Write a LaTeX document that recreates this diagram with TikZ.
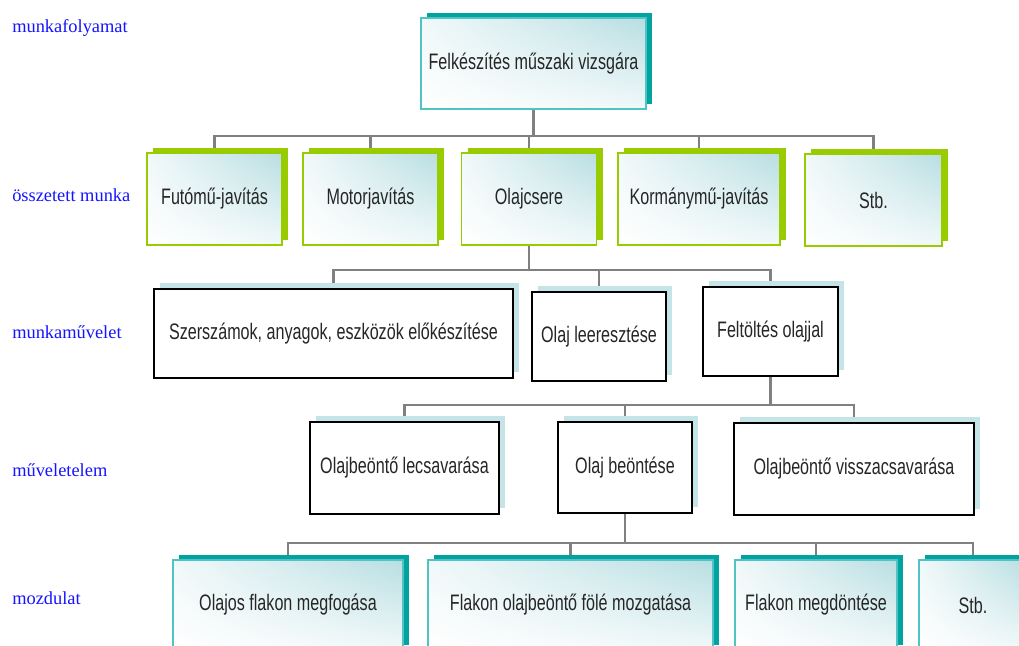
\documentclass[tikz,border=0pt]{standalone}
\usepackage{fontspec}
\setmainfont{Liberation Serif}
\newfontfamily\boxfont{Liberation Sans}[FakeStretch=0.72]
\usepackage{tikz}
\usetikzlibrary{shadows}
\usetikzlibrary{shadings}
\usetikzlibrary{backgrounds}
\definecolor{tealdark}{RGB}{0,163,160}
\definecolor{teallight}{RGB}{80,196,196}
\definecolor{limegreen}{RGB}{153,204,0}
\definecolor{palecyan}{RGB}{196,228,232}
\definecolor{fadecyan}{RGB}{184,222,226}
\definecolor{busgray}{RGB}{128,128,128}
\definecolor{labelblue}{RGB}{20,20,255}
\tikzset{sz/.style 2 args = {minimum width=#1*0.75pt, minimum height=#2*0.75pt},
         card/.style = {inner sep=0pt, line width=1.1pt, text=black!85,
                        font=\boxfont\fontsize{16.8}{20}\selectfont},
         faded/.style = {upper right=fadecyan, upper left=fadecyan!20,
                         lower right=fadecyan!20, lower left=white},
         tealcard/.style = {card, faded, draw=teallight,
                            general shadow={fill=tealdark, shadow xshift=4.5pt, shadow yshift=3.75pt}},
         greencard/.style = {card, faded, draw=limegreen,
                             general shadow={fill=limegreen, shadow xshift=4.5pt, shadow yshift=3.75pt}},
         plaincard/.style = {card, fill=white, draw=black,
                             general shadow={fill=palecyan, shadow xshift=4.5pt, shadow yshift=4.5pt}},
         conn/.style = {draw=busgray, line width=2.2pt},
         level/.style = {anchor=west, inner sep=0pt, text=labelblue,
                         font=\fontsize{13.8}{16}\selectfont}}

\begin{document}
\begin{tikzpicture}[x=0.75pt, y=-0.75pt]
      \path [use as bounding box, clip] (0, 0) rectangle (1019, 645);
      % levels
      \node [level] (lv1) at (12, 28) {munkafolyamat};
      \node [level] (lv2) at (12, 195) {összetett munka};
      \node [level] (lv3) at (12, 332) {munkaművelet};
      \node [level] (lv4) at (12, 470) {műveletelem};
      \node [level] (lv5) at (12, 598) {mozdulat};
      % munkafolyamat
      \node [tealcard, sz={225}{91}] (top) at (533.5, 63.5) {Felkészítés műszaki vizsgára};
      % összetett munka
      \node [greencard, sz={135}{92}] (futomu) at (214.5, 199) {Futómű-javítás};
      \node [greencard, sz={135}{92}] (motor) at (370.5, 199) {Motorjavítás};
      \node [greencard, sz={135}{92}] (olajcsere) at (529, 199) {Olajcsere};
      \node [greencard, sz={162}{92}] (kormany) at (699, 199) {Kormánymű-javítás};
      \node [greencard, sz={137}{92}] (stbegy) at (873.5, 200) {Stb.};
      % munkaművelet
      \node [plaincard, sz={359}{89}] (szersz) at (333.5, 333.5) {Szerszámok, anyagok, eszközök előkészítése};
      \node [plaincard, sz={134}{89}] (leeresz) at (599, 336.5) {Olaj leeresztése};
      \node [plaincard, sz={135}{89}] (feltolt) at (770.5, 331.5) {Feltöltés olajjal};
      % műveletelem
      \node [plaincard, sz={189}{92}] (lecsav) at (404.5, 468) {Olajbeöntő lecsavarása};
      \node [plaincard, sz={134}{91}] (beont) at (625, 467.5) {Olaj beöntése};
      \node [plaincard, sz={240}{92}] (visszacs) at (854, 469) {Olajbeöntő visszacsavarása};
      % mozdulat
      \node [tealcard, sz={230}{90}] (megfog) at (288, 605) {Olajos flakon megfogása};
      \node [tealcard, sz={285}{90}] (mozgat) at (570.5, 605) {Flakon olajbeöntő fölé mozgatása};
      \node [tealcard, sz={162}{90}] (megdont) at (816, 605) {Flakon megdöntése};
      \node [tealcard, sz={108}{90}] (stbket) at (973, 605) {Stb.};
      % connectors
      \coordinate (bus1) at (0, 136);
      \coordinate (bus2) at (0, 270);
      \coordinate (bus3) at (0, 405);
      \coordinate (bus4) at (0, 543);
      \begin{scope}[on background layer]
        \foreach \n in {futomu, motor, olajcsere, kormany, stbegy}
          \draw [conn] (top.south) |- (\n.north |- bus1) -- (\n.north);
        \foreach \n in {szersz, leeresz, feltolt}
          \draw [conn] (olajcsere.south) |- (\n.north |- bus2) -- (\n.north);
        \foreach \n in {lecsav, beont, visszacs}
          \draw [conn] (feltolt.south) |- (\n.north |- bus3) -- (\n.north);
        \foreach \n in {megfog, mozgat, megdont, stbket}
          \draw [conn] (beont.south) |- (\n.north |- bus4) -- (\n.north);
      \end{scope}
    \end{tikzpicture}
\end{document}
